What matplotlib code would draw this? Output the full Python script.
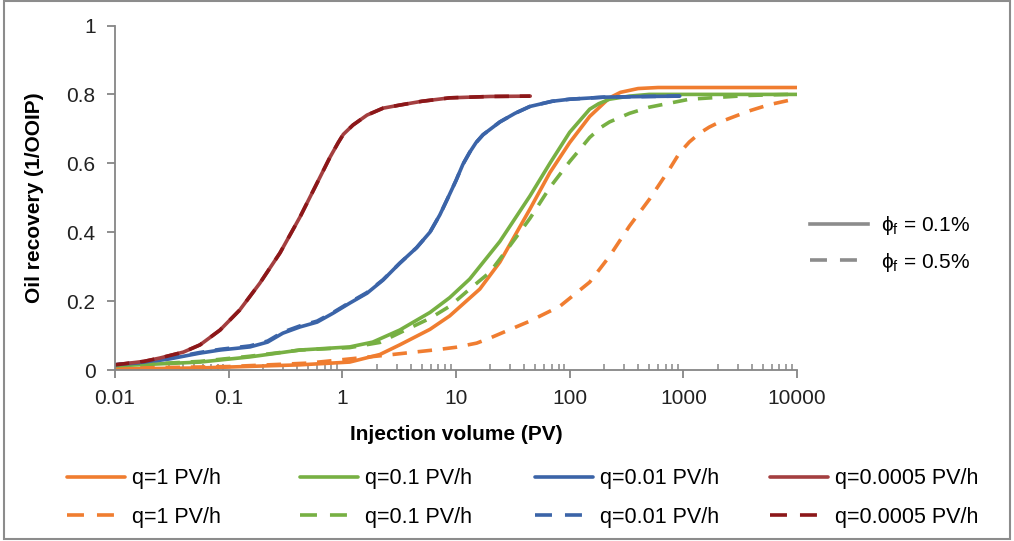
import matplotlib
matplotlib.use("Agg")
import matplotlib.pyplot as plt
from matplotlib.lines import Line2D
from matplotlib.patches import Rectangle
from matplotlib.ticker import FixedLocator, LogLocator, NullFormatter

plt.rcParams['font.family'] = ['Liberation Sans', 'DejaVu Sans']
plt.rcParams['mathtext.fontset'] = 'custom'
plt.rcParams['mathtext.rm'] = 'Liberation Sans'

# ---- recovery curves: injection volume (PV) vs oil recovery (1/OOIP) ----
# phi_f = 0.1 % (solid)
x_q1_a = [0.01, 0.056, 0.424, 1.16, 2.14, 3.2, 5.9, 8.8, 16.2, 24.3, 44.7, 67, 100, 150, 224, 280, 400, 600, 1000, 10000]
y_q1_a = [0.003, 0.006, 0.015, 0.023, 0.045, 0.073, 0.118, 0.157, 0.235, 0.313, 0.467, 0.573, 0.66, 0.736, 0.79, 0.806, 0.817, 0.82, 0.82, 0.82]

x_q01_a = [0.01, 0.056, 0.154, 0.424, 1.16, 1.85, 3.2, 5.9, 8.8, 13.2, 24.3, 44.7, 67, 100, 150, 180, 224, 336, 500, 1000, 10000]
y_q01_a = [0.012, 0.023, 0.038, 0.058, 0.067, 0.081, 0.116, 0.167, 0.21, 0.264, 0.373, 0.505, 0.60, 0.69, 0.757, 0.773, 0.786, 0.795, 0.80, 0.80, 0.80]

x_q001_a = [0.01, 0.018, 0.03, 0.056, 0.084, 0.154, 0.22, 0.30, 0.424, 0.6, 0.83, 1.16, 1.65, 2.28, 3.2, 4.5, 5.9, 7.2, 8.5, 10, 11.5, 13.2, 15, 17.3, 24.3, 33, 44.7, 70, 100, 200, 500, 930]
y_q001_a = [0.015, 0.022, 0.032, 0.049, 0.058, 0.067, 0.081, 0.107, 0.125, 0.139, 0.165, 0.194, 0.223, 0.261, 0.31, 0.355, 0.40, 0.45, 0.50, 0.55, 0.597, 0.632, 0.66, 0.683, 0.72, 0.745, 0.765, 0.78, 0.786, 0.792, 0.794, 0.795]

x_q00005_a = [0.01, 0.018, 0.025, 0.04, 0.056, 0.084, 0.125, 0.188, 0.283, 0.424, 0.6, 0.78, 0.92, 1.02, 1.24, 1.65, 2.28, 3.2, 5, 8.8, 20, 45]
y_q00005_a = [0.015, 0.025, 0.035, 0.052, 0.073, 0.116, 0.174, 0.252, 0.34, 0.444, 0.543, 0.618, 0.66, 0.684, 0.711, 0.74, 0.76, 0.769, 0.78, 0.79, 0.794, 0.795]

# phi_f = 0.5 % (dashed)
x_q1_b = [0.01, 0.1, 0.5, 1.0, 2.6, 7.2, 10, 15.2, 20, 24.3, 44.7, 82, 150, 224, 336, 504, 755, 925, 1130, 1400, 1690, 2000, 2530, 3790, 5670, 10000]
y_q1_b = [0.005, 0.01, 0.02, 0.03, 0.044, 0.06, 0.066, 0.078, 0.093, 0.105, 0.142, 0.185, 0.255, 0.33, 0.418, 0.496, 0.583, 0.63, 0.662, 0.688, 0.705, 0.717, 0.73, 0.752, 0.77, 0.788]

x_q01_b = [0.01, 0.056, 0.154, 0.424, 1.16, 2.14, 3.2, 5.9, 8.8, 13.2, 19.9, 29.7, 44.7, 67, 100, 130, 150, 190, 224, 336, 504, 1130, 3790, 8500]
y_q01_b = [0.012, 0.025, 0.04, 0.058, 0.065, 0.08, 0.108, 0.15, 0.185, 0.235, 0.284, 0.36, 0.44, 0.53, 0.605, 0.65, 0.675, 0.705, 0.72, 0.745, 0.763, 0.786, 0.797, 0.80]

x_q001_b = [0.01, 0.018, 0.03, 0.056, 0.084, 0.154, 0.22, 0.30, 0.424, 0.6, 0.83, 1.16, 1.65, 2.28, 3.2, 4.5, 5.9, 7.2, 8.5, 10, 11.5, 13.2, 15, 17.3, 24.3, 33, 44.7, 70, 100, 200, 500, 930]
y_q001_b = [0.015, 0.023, 0.034, 0.051, 0.06, 0.07, 0.084, 0.11, 0.128, 0.142, 0.167, 0.196, 0.225, 0.262, 0.31, 0.355, 0.40, 0.45, 0.50, 0.55, 0.597, 0.632, 0.66, 0.683, 0.72, 0.745, 0.765, 0.78, 0.786, 0.792, 0.794, 0.795]

x_q00005_b = [0.01, 0.018, 0.025, 0.04, 0.056, 0.084, 0.125, 0.188, 0.283, 0.424, 0.6, 0.78, 0.92, 1.02, 1.24, 1.65, 2.28, 3.2, 5, 8.8, 20, 45]
y_q00005_b = [0.015, 0.025, 0.035, 0.052, 0.073, 0.116, 0.174, 0.252, 0.34, 0.444, 0.543, 0.618, 0.66, 0.684, 0.711, 0.74, 0.76, 0.769, 0.78, 0.79, 0.794, 0.795]

rate_labels = ["q=1 PV/h", "q=0.1 PV/h", "q=0.01 PV/h", "q=0.0005 PV/h"]
phi_labels = ["\u03d5$_\\mathrm{f}$ = 0.1%", "\u03d5$_\\mathrm{f}$ = 0.5%"]
y_ticks = [0, 0.2, 0.4, 0.6, 0.8, 1]
y_ticklabels = ["0", "0.2", "0.4", "0.6", "0.8", "1"]
x_ticks = [0.01, 0.1, 1, 10, 100, 1000, 10000]
x_ticklabels = ["0.01", "0.1", "1", "10", "100", "1000", "10000"]

solid_colors = ["#F07D30", "#77B043", "#3B64A8", "#A43F40"]
dashed_colors = ["#F07D30", "#77B043", "#3B64A8", "#8C1719"]

W, H = 1014, 541
fig = plt.figure(figsize=(W / 100, H / 100), dpi=100)
ax = fig.add_axes([115 / W, 1 - 370 / H, 682 / W, 344.5 / H])

axis_gray = "#868686"
lw = 2.6
dash = (4, 3)
legend_dash = (4.7, 3.6)
FS = 15
LFS = 15.5

solids = [(x_q1_a, y_q1_a), (x_q01_a, y_q01_a), (x_q001_a, y_q001_a), (x_q00005_a, y_q00005_a)]
dashed = [(x_q1_b, y_q1_b), (x_q01_b, y_q01_b), (x_q001_b, y_q001_b), (x_q00005_b, y_q00005_b)]

solid_handles = []
for (xs, ys), c in zip(solids, solid_colors):
    h, = ax.plot(xs, ys, color=c, lw=lw, solid_capstyle='round', solid_joinstyle='round')
    solid_handles.append(h)
for (xs, ys), c in zip(dashed, dashed_colors):
    ax.plot(xs, ys, color=c, lw=lw, dashes=dash, dash_capstyle='butt', dash_joinstyle='round')
dashed_handles = [Line2D([], [], color=c, lw=lw, dashes=legend_dash) for c in dashed_colors]

ax.set_xscale('log')
ax.set_xlim(0.01, 10000)
ax.set_ylim(0, 1)
ax.xaxis.set_major_locator(FixedLocator(x_ticks))
ax.set_xticklabels(x_ticklabels)
ax.xaxis.set_minor_locator(LogLocator(base=10, subs=range(2, 10), numticks=20))
ax.xaxis.set_minor_formatter(NullFormatter())
ax.set_yticks(y_ticks)
ax.set_yticklabels(y_ticklabels)

for s in ['top', 'right']:
    ax.spines[s].set_visible(False)
for s in ['left', 'bottom']:
    ax.spines[s].set_color(axis_gray)
    ax.spines[s].set_linewidth(1.3)
ax.tick_params(axis='both', which='major', direction='out', length=6, width=1.3,
               color=axis_gray, labelsize=FS, labelcolor="#222222", pad=8)
ax.tick_params(axis='x', which='minor', direction='in', length=4, width=1.1, color=axis_gray)

ax.set_xlabel("Injection volume (PV)", fontsize=FS, fontweight='bold', labelpad=12)
ax.set_ylabel("Oil recovery (1/OOIP)", fontsize=FS, fontweight='bold', labelpad=16)

# rate legend: one column per flow rate, solid above dashed
col_x = [67, 300, 535, 770]
for i, cx in enumerate(col_x):
    fig.legend([solid_handles[i], dashed_handles[i]], [rate_labels[i], rate_labels[i]],
               loc='center left', bbox_to_anchor=(cx / W, 1 - 498 / H),
               frameon=False, fontsize=LFS, handlelength=2.7, handletextpad=0.3,
               labelspacing=0.83, borderpad=0, borderaxespad=0)

# fracture porosity legend
g1 = Line2D([], [], color="#8C8C8C", lw=lw)
g2 = Line2D([], [], color="#8C8C8C", lw=lw, dashes=legend_dash)
fig.legend([g1, g2], phi_labels, loc='center left', bbox_to_anchor=(810 / W, 1 - 244 / H),
           frameon=False, fontsize=FS, handlelength=2.8, handletextpad=0.6,
           labelspacing=0.65, borderpad=0, borderaxespad=0)

fig.add_artist(Rectangle((4 / W, 2 / H), 1006 / W, 538 / H, transform=fig.transFigure,
                         fill=False, edgecolor="#8C8C8C", lw=1.5))

fig.savefig("out.png", dpi=100)
